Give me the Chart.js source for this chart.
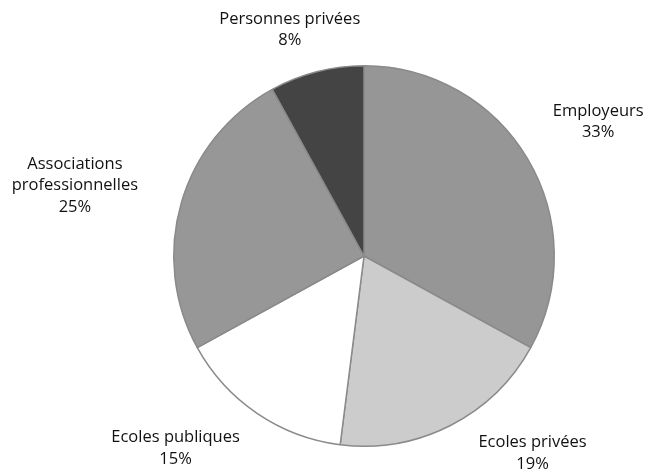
<!DOCTYPE html>
<html>
<head>
<meta charset="utf-8">
<script src="https://cdn.jsdelivr.net/npm/chart.js@4"></script>
<style>
  html, body { margin: 0; padding: 0; background: #fff; }
  #wrap { width: 649px; height: 470px; }
</style>
</head>
<body>
<div id="wrap"><canvas id="pieChart" width="649" height="470"></canvas></div>
<script>
// ============ DATA ============
const categories = [
  "Employeurs",
  "Ecoles privées",
  "Ecoles publiques",
  "Associations professionnelles",
  "Personnes privées",
];
const shares = [33, 19, 15, 25, 8];

// label lines (as printed on the chart)
const labelLines = [
  ["Employeurs"],
  ["Ecoles privées"],
  ["Ecoles publiques"],
  ["Associations", "professionnelles"],
  ["Personnes privées"],
];

const sliceColors = ["#969696", "#cccccc", "#ffffff", "#979797", "#444444"];

// label nudges from the arc anchor point (px)
const labelNudges = [
  [36, -17],
  [64, -8],
  [-59, 2],
  [-68, -6],
  [-17, -3],
];

// ============ LABEL PLUGIN ============
const outsideLabels = {
  id: "outsideLabels",
  afterDatasetsDraw(chart) {
    const ctx = chart.ctx;
    const meta = chart.getDatasetMeta(0);
    ctx.save();
    ctx.font = "16.5px 'Open Sans'";
    ctx.fillStyle = "#111111";
    ctx.textAlign = "center";
    ctx.textBaseline = "middle";
    const lineH = 21.5;
    meta.data.forEach((arc, i) => {
      const p = arc.getProps(["x", "y", "startAngle", "endAngle", "outerRadius"], true);
      const mid = (p.startAngle + p.endAngle) / 2;
      const r = p.outerRadius + 40;
      const cx = p.x + Math.cos(mid) * r + labelNudges[i][0];
      const cy = p.y + Math.sin(mid) * r + labelNudges[i][1];
      const lines = labelLines[i].concat([shares[i] + "%"]);
      const top = cy - ((lines.length - 1) * lineH) / 2;
      lines.forEach((t, k) => ctx.fillText(t, cx, top + k * lineH));
    });
    ctx.restore();
  },
};

// ============ RENDER ============
new Chart(document.getElementById("pieChart"), {
  type: "pie",
  data: {
    labels: categories,
    datasets: [
      {
        data: shares,
        backgroundColor: sliceColors,
        borderColor: "#8a8a8a",
        borderWidth: 1.5,
      },
    ],
  },
  options: {
    responsive: false,
    animation: false,
    layout: { padding: { top: 65, bottom: 23, left: 173, right: 94 } },
    plugins: {
      legend: { display: false },
      tooltip: { enabled: false },
    },
  },
  plugins: [outsideLabels],
});
</script>
</body>
</html>
